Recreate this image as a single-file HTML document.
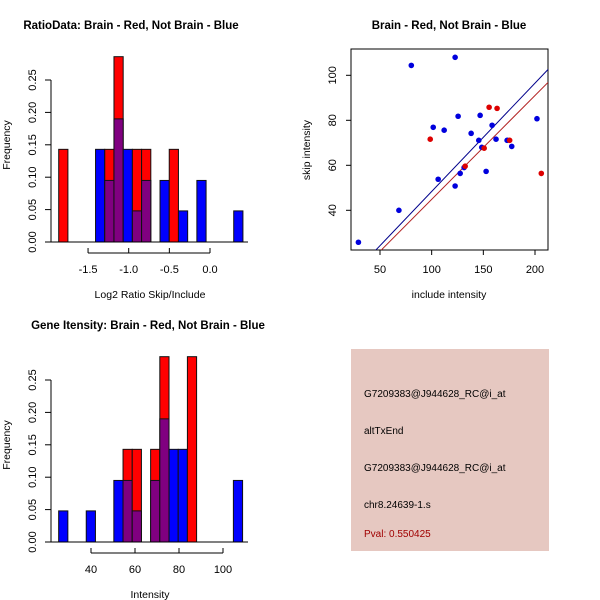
<!DOCTYPE html>
<html><head><meta charset="utf-8"><style>
body{margin:0;background:#fff}
svg{display:block;font-family:"Liberation Sans",sans-serif}
</style></head><body>
<svg id="c" width="600" height="600" xmlns="http://www.w3.org/2000/svg">
<rect x="0" y="0" width="600" height="600" fill="#fff"/>
<g id="p1"></g>
<g id="p2"></g>
<g id="p3"></g>
<g>
<rect x="351" y="349" width="198" height="202" fill="#e6c8c1"/>
<text x="364" y="397" font-size="10" fill="#000">G7209383@J944628_RC@i_at</text>
<text x="364" y="434" font-size="10" fill="#000">altTxEnd</text>
<text x="364" y="471" font-size="10" fill="#000">G7209383@J944628_RC@i_at</text>
<text x="364" y="508" font-size="10" fill="#000">chr8.24639-1.s</text>
<text x="364" y="537" font-size="10" fill="#a00000">Pval: 0.550425</text>
</g>
</svg>
<script>
// Histogram 1 data (bin index -> frequency)
const h1Red = [[0,0.143],[5,0.143],[6,0.286],[8,0.143],[9,0.143],[12,0.143]];
const h1Blue = [[4,0.143],[5,0.095],[6,0.19],[7,0.143],[8,0.048],[9,0.095],[11,0.095],[13,0.048],[15,0.095],[19,0.048]];
const h1XTicks = [-1.5,-1.0,-0.5,0.0];
const h1Bin = {start:-1.861, width:0.1133};
// Histogram 2 data
const h2Red = [[7,0.143],[8,0.143],[10,0.143],[11,0.286],[14,0.286]];
const h2Blue = [[0,0.048],[3,0.048],[6,0.095],[7,0.095],[8,0.048],[10,0.095],[11,0.19],[12,0.143],[13,0.143],[19,0.095]];
const h2XTicks = [40,60,80,100];
const h2Bin = {start:25.3, width:4.18};
const yTicks = [0,0.05,0.10,0.15,0.20,0.25];
const yTickLabels = ["0.00","0.05","0.10","0.15","0.20","0.25"];
// Scatter data
const blueX = [29.1,68.3,80.3,122.7,101.5,112.1,106.3,122.7,125.6,127.6,131.4,138.2,145.6,146.9,148.5,152.7,158.5,162.3,173,177.5,201.9];
const blueY = [25.8,40,104.4,108,76.9,75.6,53.8,50.8,81.8,56.4,59,74.2,71.1,82.2,68,57.3,77.8,71.6,71.1,68.4,80.7];
const redX = [98.6,132.4,150.8,155.6,163.3,175.5,206.1];
const redY = [71.6,59.6,67.6,85.8,85.3,71.1,56.4];
const blueFit = [0.2, 0.4816];
const redFit = [-1.3, 0.4616];
const sXTicks = [50,100,150,200];
const sYTicks = [40,60,80,100];

const NS="http://www.w3.org/2000/svg";
function mk(parent,tag,attrs,text){const e=document.createElementNS(NS,tag);for(const k in attrs)e.setAttribute(k,attrs[k]);if(text!==undefined)e.textContent=text;parent.appendChild(e);return e;}

function hist(g, red, blue, bin, xticks, xMap, base, title, titleX, titleY, xlabel, xlabelY){
  const yMap=v=>base - v*648;
  const bx=i=>xMap(bin.start+i*bin.width);
  const all={};
  red.forEach(([i,v])=>{all[i]=all[i]||{r:0,b:0};all[i].r=v;});
  blue.forEach(([i,v])=>{all[i]=all[i]||{r:0,b:0};all[i].b=v;});
  for(const k in all){
    const i=+k,d=all[k];const x0=bx(i),x1=bx(i+1);
    const mx=Math.max(d.r,d.b),mn=Math.min(d.r,d.b);
    const r=mk(g,'rect',{x:x0,y:yMap(mx),width:x1-x0,height:yMap(0)-yMap(mx),fill:d.r>=d.b?'#ff0000':'#0000ff',stroke:'#111','stroke-width':1});
    
    
    if(mn>0){const p=mk(g,'rect',{x:x0,y:yMap(mn),width:x1-x0,height:yMap(0)-yMap(mn),fill:'#800080',stroke:'#111','stroke-width':1});
      
      }
  }
  mk(g,'line',{x1:51,y1:base,x2:248,y2:base,stroke:'#000'});
  mk(g,'line',{x1:51,y1:yMap(0),x2:51,y2:yMap(0.25),stroke:'#000'});
  yTicks.forEach((t,i)=>{mk(g,'line',{x1:45,y1:yMap(t),x2:51,y2:yMap(t),stroke:'#000'});
    const tl=mk(g,'text',{x:36,y:yMap(t),'font-size':11,'text-anchor':'middle',transform:`rotate(-90 36 ${yMap(t)})`},yTickLabels[i]);
    
    });
  const ay=base+11;
  mk(g,'line',{x1:xMap(xticks[0]),y1:ay,x2:xMap(xticks[xticks.length-1]),y2:ay,stroke:'#000'});
  xticks.forEach(t=>{mk(g,'line',{x1:xMap(t),y1:ay,x2:xMap(t),y2:ay-5,stroke:'#000'});
    const tl=mk(g,'text',{x:xMap(t),y:ay+20,'font-size':11,'text-anchor':'middle'},t.toFixed(xticks[0]%1||xticks[1]%1?1:0));
    
    });
  const tt=mk(g,'text',{x:titleX,y:titleY,'font-size':11.5,'font-weight':'bold','text-anchor':'middle'},title);
  
  
  const xl=mk(g,'text',{x:150,y:xlabelY,'font-size':10.5,'text-anchor':'middle'},xlabel);
  
  
  const cy=base-97;
  const yl=mk(g,'text',{x:10,y:cy,'font-size':10.5,'text-anchor':'middle',transform:`rotate(-90 10 ${cy})`},'Frequency');
  
  
}
hist(document.getElementById('p1'),h1Red,h1Blue,h1Bin,h1XTicks,v=>210+v*81.3,242,'RatioData: Brain - Red, Not Brain - Blue',131,29,'Log2 Ratio Skip/Include',298);
hist(document.getElementById('p3'),h2Red,h2Blue,h2Bin,h2XTicks,v=>91+(v-40)*2.2,542,'Gene Itensity: Brain - Red, Not Brain - Blue',148,329,'Intensity',598);

// scatter
(function(){
  const g=document.getElementById('p2');
  const X=v=>380+(v-50)*1.0333, Y=v=>75.3-(v-100)*2.25;
  const clip=mk(g,'clipPath',{id:'sc'});mk(clip,'rect',{x:351,y:49,width:197,height:201});
  mk(g,'rect',{x:351,y:49,width:197,height:201,fill:'none',stroke:'#000'});
  const lg=mk(g,'g',{'clip-path':'url(#sc)'});
  [[blueFit,'#00008b'],[redFit,'#b22222']].forEach(([f,c])=>{
    const l=mk(lg,'line',{x1:X(0),y1:Y(f[0]),x2:X(260),y2:Y(f[0]+f[1]*260),stroke:c,'stroke-width':1});
    
    
  });
  blueX.forEach((x,i)=>{const p=mk(g,'circle',{cx:X(x),cy:Y(blueY[i]),r:2.8,fill:'#0000dd'});
    
    });
  redX.forEach((x,i)=>{const p=mk(g,'circle',{cx:X(x),cy:Y(redY[i]),r:2.8,fill:'#dd0000'});
    
    });
  sXTicks.forEach(t=>{mk(g,'line',{x1:X(t),y1:250,x2:X(t),y2:255,stroke:'#000'});
    const tl=mk(g,'text',{x:X(t),y:273,'font-size':11,'text-anchor':'middle'},String(t));
    
    });
  sYTicks.forEach(t=>{mk(g,'line',{x1:346,y1:Y(t),x2:351,y2:Y(t),stroke:'#000'});
    const tl=mk(g,'text',{x:336,y:Y(t),'font-size':11,'text-anchor':'middle',transform:`rotate(-90 336 ${Y(t)})`},String(t));
    
    });
  const tt=mk(g,'text',{x:449,y:29,'font-size':11.5,'font-weight':'bold','text-anchor':'middle'},'Brain - Red, Not Brain - Blue');
  
  
  const xl=mk(g,'text',{x:449,y:298,'font-size':10.5,'text-anchor':'middle'},'include intensity');
  
  
  const yl=mk(g,'text',{x:310,y:150,'font-size':10.5,'text-anchor':'middle',transform:'rotate(-90 310 150)'},'skip intensity');
  
  
})();
</script>
</body></html>
